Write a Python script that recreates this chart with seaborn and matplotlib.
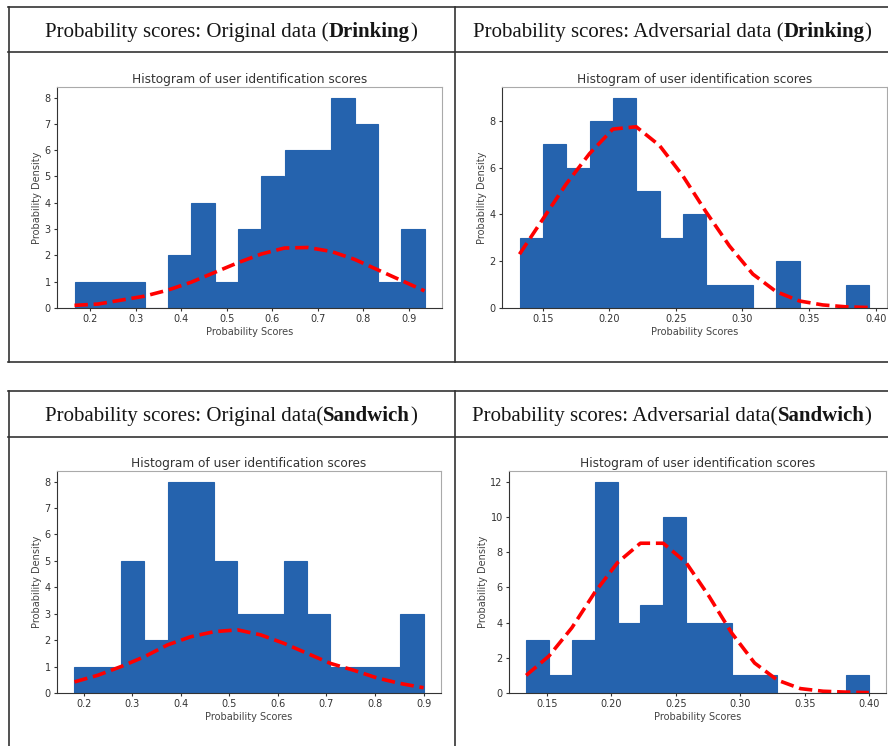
import numpy as np
import pandas as pd
import matplotlib
matplotlib.use("Agg")
import matplotlib.pyplot as plt
from matplotlib.lines import Line2D
from matplotlib.ticker import MultipleLocator
import seaborn as sns

# --- values ---
# Original data (Drinking)
orig_drink_edges = np.linspace(0.165, 0.935, 16)
orig_drink_counts = [1, 1, 1, 0, 2, 4, 1, 3, 5, 6, 6, 8, 7, 1, 3]
orig_drink_curve = [0.10, 0.15, 0.30, 0.45, 0.68, 0.98, 1.35, 1.72,
                    2.05, 2.28, 2.30, 2.15, 1.85, 1.45, 1.05, 0.65]

# Adversarial data (Drinking)
adv_drink_edges = np.linspace(0.1325, 0.3954, 16)
adv_drink_counts = [3, 7, 6, 8, 9, 5, 3, 4, 1, 1, 0, 2, 0, 0, 1]
adv_drink_curve = [2.3, 3.8, 5.3, 6.6, 7.65, 7.75, 6.95, 5.65,
                   4.1, 2.65, 1.45, 0.7, 0.3, 0.13, 0.05, 0.02]

# Original data (Sandwich)
orig_sand_edges = np.linspace(0.1807, 0.90, 16)
orig_sand_counts = [1, 1, 5, 2, 8, 8, 5, 3, 3, 5, 3, 1, 1, 1, 3]
orig_sand_curve = [0.42, 0.67, 1.0, 1.37, 1.82, 2.13, 2.32, 2.39,
                   2.2, 1.88, 1.5, 1.12, 0.86, 0.57, 0.36, 0.2]

# Adversarial data (Sandwich)
adv_sand_edges = np.linspace(0.134, 0.3997, 16)
adv_sand_counts = [3, 1, 3, 12, 4, 5, 10, 4, 4, 1, 1, 0, 0, 0, 1]
adv_sand_curve = [1.0, 2.1, 3.7, 5.7, 7.4, 8.5, 8.5, 7.4,
                  5.5, 3.4, 1.7, 0.73, 0.25, 0.1, 0.05, 0.02]

headers = [
    ("Probability scores: Original data (", "Drinking", ")"),
    ("Probability scores: Adversarial data (", "Drinking", ")"),
    ("Probability scores: Original data(", "Sandwich", ")"),
    ("Probability scores: Adversarial data(", "Sandwich", ")"),
]

W, H = 888, 746
fig = plt.figure(figsize=(W / 100, H / 100), dpi=100)
fig.patch.set_facecolor("white")
renderer = fig.canvas.get_renderer()


def fx(x):
    return x / W


def fy(y):
    return 1 - y / H


def hline(y, x0, x1):
    fig.add_artist(Line2D([fx(x0), fx(x1)], [fy(y), fy(y)], color="#333333", lw=1.2))


def vline(x, y0, y1):
    fig.add_artist(Line2D([fx(x), fx(x)], [fy(y0), fy(y1)], color="#333333", lw=1.2))


# table borders
hline(7, 8, 888)
hline(52, 8, 888)
hline(362, 8, 888)
vline(8.5, 7, 362)
vline(455, 7, 362)
hline(391, 8, 888)
hline(437, 8, 888)
vline(8.5, 391, 746)
vline(455, 391, 746)

# header texts: regular + bold + regular on one baseline
header_pos = [(231, 37), (672, 37), (231, 421), (672, 421)]
for parts, (cx, base) in zip(headers, header_pos):
    texts = []
    for i, s in enumerate(parts):
        t = fig.text(0, fy(base), s, family="Liberation Serif", size=15,
                     weight="bold" if i == 1 else "normal", color="#151515",
                     ha="left", va="baseline")
        texts.append(t)
    widths = [t.get_window_extent(renderer).width for t in texts]
    x = cx - sum(widths) / 2
    for t, w in zip(texts, widths):
        t.set_x(fx(x))
        x += w

panels = [
    (orig_drink_edges, orig_drink_counts, orig_drink_curve, (57, 87, 442, 308), 0.1, 1),
    (adv_drink_edges, adv_drink_counts, adv_drink_curve, (502, 87, 887, 308), 0.05, 2),
    (orig_sand_edges, orig_sand_counts, orig_sand_curve, (57, 471, 441, 693), 0.1, 1),
    (adv_sand_edges, adv_sand_counts, adv_sand_curve, (509, 471, 886, 693), 0.05, 2),
]

for edges, counts, curve, (l, t, r, b), xstep, ystep in panels:
    ax = fig.add_axes([fx(l), fy(b), (r - l) / W, (b - t) / H])
    centers = (edges[:-1] + edges[1:]) / 2
    df = pd.DataFrame({"score": centers, "count": counts})
    sns.histplot(data=df, x="score", weights="count", bins=list(edges), ax=ax,
                 color="#2563ae", alpha=1, edgecolor="#2563ae", linewidth=0.8)
    sns.lineplot(x=list(edges), y=curve, ax=ax, color="red", linestyle="--", lw=2.6)
    ax.xaxis.set_major_locator(MultipleLocator(xstep))
    ax.yaxis.set_major_locator(MultipleLocator(ystep))
    ax.set_title("Histogram of user identification scores", fontsize=8.7, color="#333333", pad=3)
    ax.set_xlabel("Probability Scores", fontsize=7, color="#444444", labelpad=2)
    ax.set_ylabel("Probability Density", fontsize=7, color="#444444", labelpad=2)
    ax.tick_params(labelsize=7, colors="#333333", length=2.5, width=0.8, pad=2)
    for side in ["top", "right"]:
        ax.spines[side].set_color("#aaaaaa")
    for side in ["left", "bottom"]:
        ax.spines[side].set_color("#333333")

fig.savefig("out.png", dpi=100, facecolor="white")
